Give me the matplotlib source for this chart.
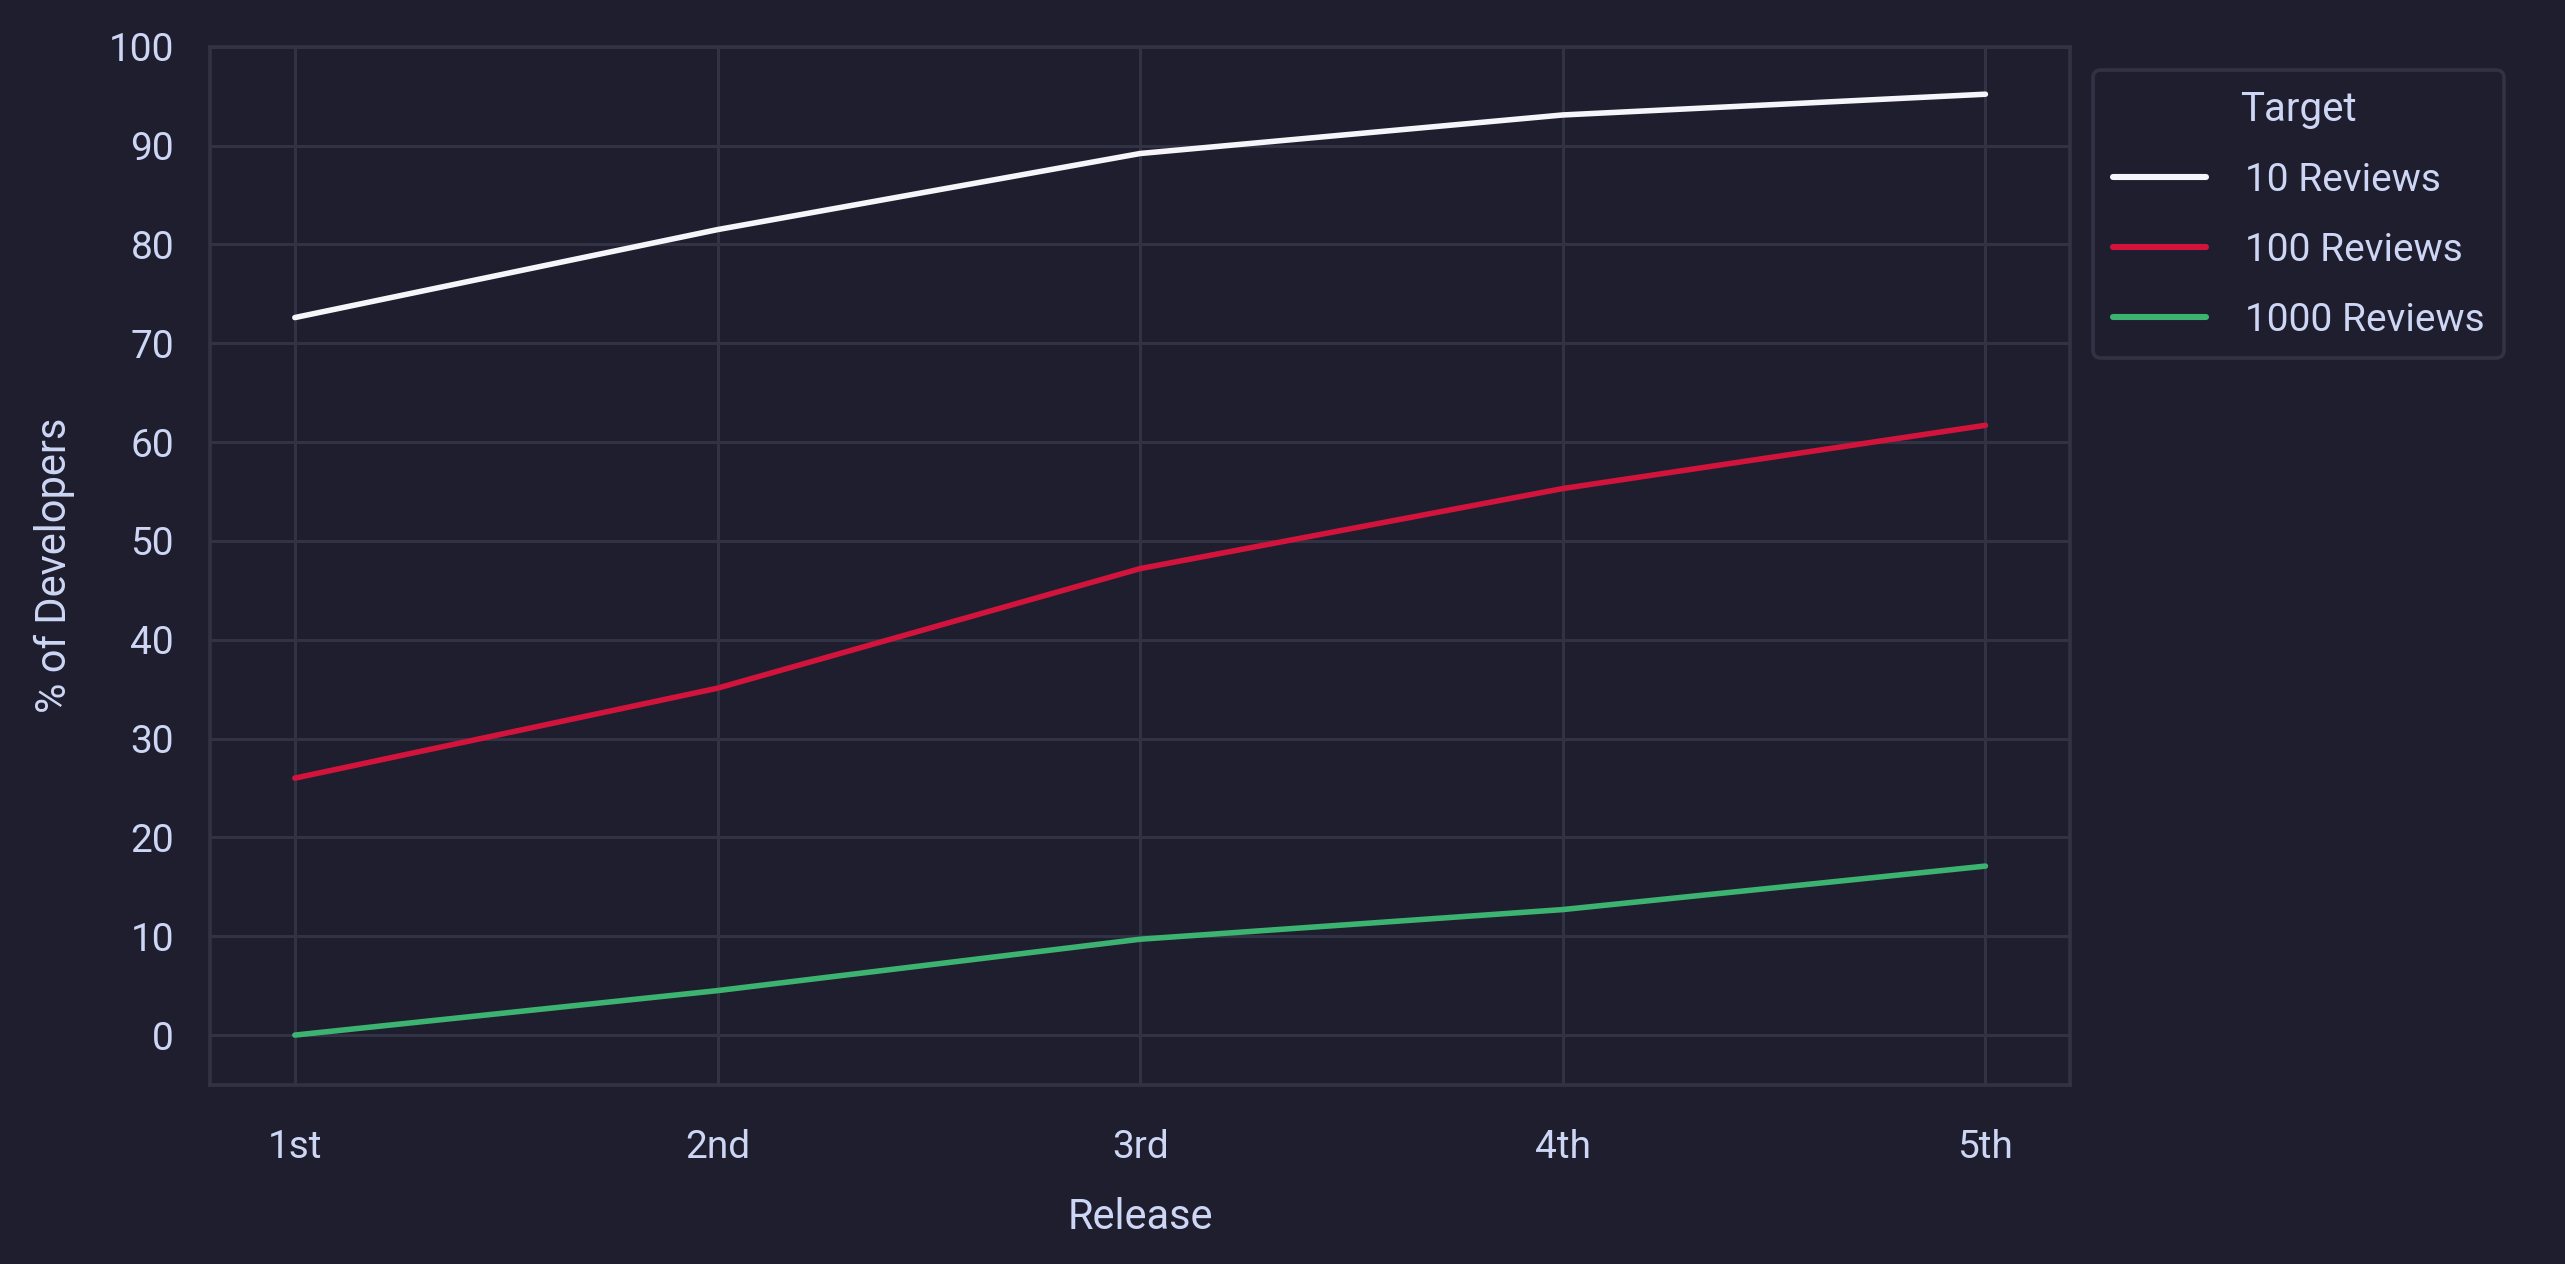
import matplotlib
matplotlib.use("Agg")
import matplotlib.pyplot as plt

# values
releases = ["1st", "2nd", "3rd", "4th", "5th"]
reviews_10 = [72.6, 81.5, 89.2, 93.1, 95.2]
reviews_100 = [26.0, 35.1, 47.2, 55.3, 61.7]
reviews_1000 = [0.0, 4.5, 9.7, 12.7, 17.1]
series_names = ["10 Reviews", "100 Reviews", "1000 Reviews"]
yticks = list(range(0, 101, 10))

bg = "#1e1e2e"
grid_col = "#313244"
text_col = "#cdd6f4"
line_cols = ["#f5f5fa", "#d2143c", "#3cb371"]

plt.rcParams['font.family'] = ['Roboto', 'DejaVu Sans']
plt.rcParams['text.color'] = text_col
plt.rcParams['axes.labelcolor'] = text_col
plt.rcParams['xtick.color'] = text_col
plt.rcParams['ytick.color'] = text_col

fig = plt.figure(figsize=(12.825, 6.32), dpi=200, facecolor=bg)
ax = fig.add_axes([0.082, 0.142, 0.725, 0.821])
ax.set_facecolor(bg)

x = list(range(len(releases)))
for vals, name, col in zip([reviews_10, reviews_100, reviews_1000], series_names, line_cols):
    ax.plot(x, vals, color=col, lw=2.0, label=name, solid_capstyle='round')

ax.set_xticks(x)
ax.set_xticklabels(releases)
ax.set_yticks(yticks)
ax.set_ylim(-5, 100)
ax.set_xlim(-0.2, 4.2)
ax.tick_params(axis='y', length=0, labelsize=14, pad=13)
ax.tick_params(axis='x', length=0, labelsize=14, pad=16)
ax.grid(True, color=grid_col, lw=1.1)
ax.set_axisbelow(True)
for s in ax.spines.values():
    s.set_color(grid_col)
    s.set_linewidth(1.3)

ax.set_xlabel("Release", fontsize=15, labelpad=11)
ax.set_ylabel("% of Developers", fontsize=15, labelpad=12)

leg = ax.legend(title="Target", loc="upper left", bbox_to_anchor=(1.0, 1.0),
                fontsize=14, title_fontsize=14.5, frameon=True, fancybox=True,
                borderaxespad=0.6, labelspacing=0.85, handlelength=2.4,
                handletextpad=1.0, borderpad=0.5)
leg.get_frame().set_facecolor(bg)
leg.get_frame().set_edgecolor(grid_col)
leg.get_frame().set_linewidth(1.3)
leg.get_frame().set_alpha(1)
for t in leg.get_texts():
    t.set_color(text_col)
leg.get_title().set_color(text_col)
for h in leg.get_lines():
    h.set_linewidth(2.2)

fig.savefig("out.png", dpi=200, facecolor=bg)
